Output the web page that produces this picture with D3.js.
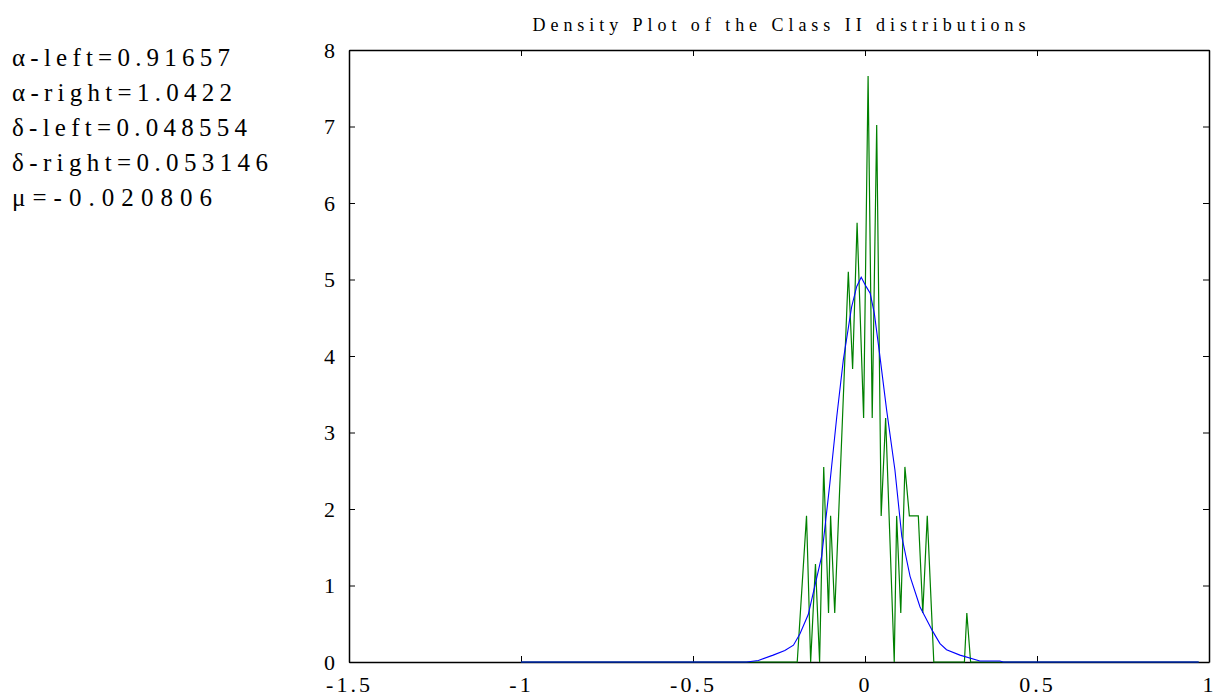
<!DOCTYPE html>
<html>
<head>
<meta charset="utf-8">
<script src="https://cdn.jsdelivr.net/npm/d3@7"></script>
<style>
  body { margin: 0; background: #fff; }
  text { font-family: "Liberation Serif", "Times New Roman", serif; fill: #000; }
</style>
</head>
<body>
<div id="viz"></div>
<script>
// values
var greenX = [-1.0, -0.197, -0.170, -0.158, -0.144, -0.132, -0.120, -0.106, -0.100, -0.088, -0.0485, -0.036, -0.023, -0.004, 0.009, 0.021, 0.034, 0.047, 0.060, 0.085, 0.092, 0.104, 0.116, 0.129, 0.155, 0.168, 0.181, 0.200, 0.289, 0.296, 0.307, 0.97];
var greenY = [0, 0, 1.91, 0, 1.28, 0, 2.55, 0.64, 1.91, 0.64, 5.10, 3.83, 5.74, 3.19, 7.66, 3.19, 7.02, 1.91, 3.19, 0, 1.91, 0.64, 2.55, 1.91, 1.91, 0.64, 1.91, 0, 0, 0.64, 0, 0];

var blueX = [-1.0, -0.344, -0.310, -0.267, -0.233, -0.208, -0.189, -0.165, -0.126, -0.102, -0.082, -0.063, -0.039, -0.024, -0.011, 0.003, 0.015, 0.027, 0.041, 0.063, 0.087, 0.107, 0.131, 0.160, 0.197, 0.218, 0.237, 0.276, 0.334, 0.392, 0.402, 0.97];
var blueY = [0, 0, 0.02, 0.09, 0.15, 0.22, 0.37, 0.62, 1.38, 2.34, 3.21, 3.95, 4.64, 4.91, 5.03, 4.91, 4.82, 4.56, 4.08, 3.29, 2.51, 1.64, 1.12, 0.72, 0.40, 0.24, 0.16, 0.09, 0.013, 0.013, 0, 0];

var xTicks = [-1.5, -1, -0.5, 0, 0.5, 1];
var xTickLabels = ["-1.5", "-1", "-0.5", "0", "0.5", "1"];
var yTicks = [0, 1, 2, 3, 4, 5, 6, 7, 8];
var yTickLabels = ["0", "1", "2", "3", "4", "5", "6", "7", "8"];

var notes = ["\u03b1-left=0.91657", "\u03b1-right=1.0422", "\u03b4-left=0.048554", "\u03b4-right=0.053146", "\u03bc=-0.020806"];
var noteWidths = [218, 220, 235, 256, 200];

var title = "Density Plot of the Class II distributions";

var width = 1219, height = 696;
var plotLeft = 349, plotRight = 1209, plotTop = 50, plotBottom = 662;

var svg = d3.select("#viz").append("svg")
  .attr("width", width)
  .attr("height", height);

var x = d3.scaleLinear().domain([-1.5, 1]).range([plotLeft, plotRight]);
var y = d3.scaleLinear().domain([0, 8]).range([plotBottom, plotTop]);

// axes, ticks pointing inward
var xAxis = svg.append("g")
  .attr("transform", "translate(0," + plotBottom + ")")
  .call(d3.axisBottom(x).tickValues(xTicks)
    .tickFormat(function (d, i) { return xTickLabels[i]; })
    .tickSizeInner(-6).tickSizeOuter(0).tickPadding(14));
svg.append("g")
  .attr("transform", "translate(0," + plotTop + ")")
  .call(d3.axisTop(x).tickValues(xTicks).tickFormat("")
    .tickSizeInner(-6).tickSizeOuter(0));
var yAxis = svg.append("g")
  .attr("transform", "translate(" + plotLeft + ",0)")
  .call(d3.axisLeft(y).tickValues(yTicks)
    .tickFormat(function (d, i) { return yTickLabels[i]; })
    .tickSizeInner(-6).tickSizeOuter(0).tickPadding(14));
svg.append("g")
  .attr("transform", "translate(" + plotRight + ",0)")
  .call(d3.axisRight(y).tickValues(yTicks).tickFormat("")
    .tickSizeInner(-6).tickSizeOuter(0));

svg.selectAll(".domain").attr("stroke", "#000").attr("stroke-width", 1.5);
svg.selectAll(".tick line").attr("stroke", "#000");
xAxis.selectAll("text").attr("font-size", 22).attr("letter-spacing", 3)
  .attr("font-family", "Liberation Serif");
yAxis.selectAll("text").attr("font-size", 22)
  .attr("font-family", "Liberation Serif");

// lines
var line = d3.line()
  .x(function (d) { return x(d[0]); })
  .y(function (d) { return y(d[1]); });

svg.append("path")
  .datum(d3.zip(greenX, greenY))
  .attr("d", line)
  .attr("fill", "none")
  .attr("stroke", "#008000")
  .attr("stroke-width", 1.2);

svg.append("path")
  .datum(d3.zip(blueX, blueY))
  .attr("d", line)
  .attr("fill", "none")
  .attr("stroke", "#0000ff")
  .attr("stroke-width", 1.1);

// title
svg.append("text")
  .attr("x", (plotLeft + plotRight) / 2)
  .attr("y", 31)
  .attr("text-anchor", "middle")
  .attr("font-size", 18)
  .attr("textLength", 493)
  .attr("lengthAdjust", "spacing")
  .text(title);

// parameter notes at the left
svg.selectAll(".note")
  .data(notes)
  .enter().append("text")
  .attr("class", "note")
  .attr("x", 12)
  .attr("y", function (d, i) { return 66 + i * 35; })
  .attr("font-size", 25)
  .attr("textLength", function (d, i) { return noteWidths[i]; })
  .attr("lengthAdjust", "spacing")
  .text(function (d) { return d; });
</script>
</body>
</html>
